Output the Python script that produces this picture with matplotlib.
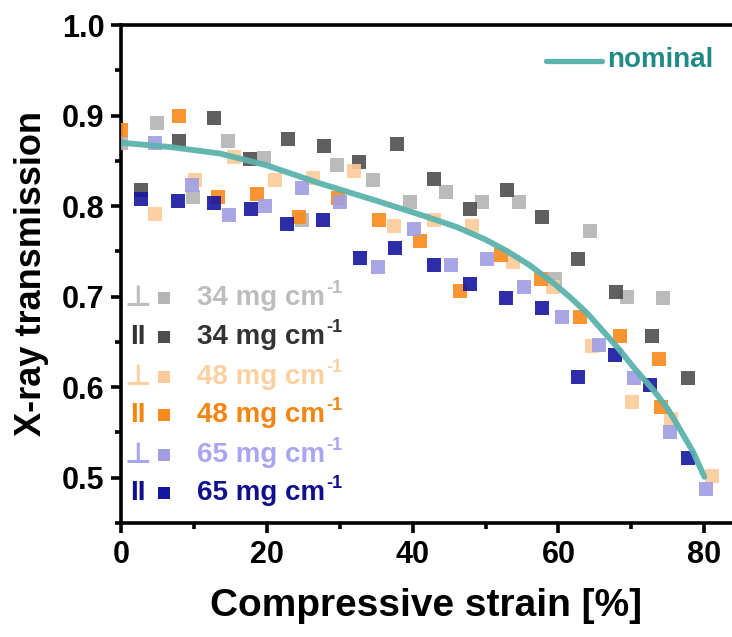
import matplotlib
matplotlib.use('Agg')
import matplotlib.pyplot as plt
from matplotlib.transforms import IdentityTransform

plt.rcParams['font.family'] = ['Liberation Sans', 'DejaVu Sans']
plt.rcParams['font.weight'] = 'bold'

# ---- data ----
perp34_x = [0, 4.9, 9.9, 14.7, 19.6, 24.8, 29.6, 34.5, 39.6, 44.6, 49.5, 54.6, 59.5, 64.3, 69.4, 74.3]
perp34_y = [0.870, 0.892, 0.810, 0.872, 0.853, 0.785, 0.845, 0.829, 0.804, 0.816, 0.805, 0.805, 0.720, 0.772, 0.700, 0.699]

par34_x = [2.8, 7.9, 12.8, 17.7, 22.9, 27.8, 32.7, 37.8, 42.9, 47.9, 52.9, 57.8, 62.7, 67.9, 72.8, 77.7]
par34_y = [0.818, 0.872, 0.897, 0.852, 0.874, 0.866, 0.849, 0.869, 0.830, 0.797, 0.818, 0.788, 0.742, 0.705, 0.656, 0.610]

perp48_x = [4.7, 10.2, 15.5, 21.1, 26.4, 31.9, 37.4, 42.9, 48.2, 53.7, 59.2, 64.6, 70.1, 75.5, 81.0]
perp48_y = [0.791, 0.829, 0.854, 0.829, 0.831, 0.839, 0.778, 0.785, 0.778, 0.738, 0.711, 0.645, 0.584, 0.565, 0.502]

par48_x = [0, 8.0, 13.3, 18.7, 24.4, 29.8, 35.4, 41.0, 46.5, 52.1, 57.6, 63.0, 68.4, 73.8, 74.0]
par48_y = [0.884, 0.899, 0.810, 0.813, 0.788, 0.809, 0.785, 0.761, 0.706, 0.746, 0.719, 0.677, 0.657, 0.631, 0.578]

perp65_x = [4.7, 9.8, 14.8, 19.8, 24.8, 30.0, 35.2, 40.2, 45.2, 50.2, 55.3, 60.5, 65.5, 70.3, 75.3, 80.2]
perp65_y = [0.870, 0.823, 0.790, 0.800, 0.820, 0.804, 0.733, 0.775, 0.735, 0.742, 0.711, 0.678, 0.647, 0.610, 0.551, 0.487]

par65_x = [2.8, 7.8, 12.8, 17.8, 22.7, 27.7, 32.8, 37.6, 42.9, 47.9, 52.8, 57.7, 62.7, 67.8, 72.6, 77.7]
par65_y = [0.808, 0.806, 0.803, 0.797, 0.780, 0.785, 0.743, 0.754, 0.735, 0.714, 0.699, 0.688, 0.611, 0.636, 0.602, 0.522]

nominal_x = [0, 7, 13.6, 20, 27.3, 35, 42, 46, 50, 53, 56, 59.3, 61.5, 63.9, 66, 68.4, 70.5, 73, 75, 76.7, 78.5, 80]
nominal_y = [0.870, 0.865, 0.858, 0.845, 0.825, 0.806, 0.788, 0.777, 0.763, 0.750, 0.735, 0.715, 0.700, 0.682, 0.663, 0.641, 0.620, 0.597, 0.576, 0.553, 0.528, 0.501]

series_labels = ["34 mg cm", "34 mg cm", "48 mg cm", "48 mg cm", "65 mg cm", "65 mg cm"]
label_exponent = "-1"
series_symbols = ["\u22a5", "II", "\u22a5", "II", "\u22a5", "II"]
marker_colors = ["#b4b4b4", "#4d4d4d", "#fdcb9a", "#fb8a1c", "#a09de4", "#16169e"]
text_colors = ["#bdbdbd", "#333333", "#fdd0a2", "#f58410", "#a8a6f0", "#10108f"]

xs = [perp34_x, par34_x, perp48_x, par48_x, perp65_x, par65_x]
ys = [perp34_y, par34_y, perp48_y, par48_y, perp65_y, par65_y]

# ---- figure ----
W, H = 732, 637
fig = plt.figure(figsize=(W / 100, H / 100), dpi=100)
ax = fig.add_axes([121 / W, 1 - 523 / H, 1 - 121 / W, (523 - 25) / H])

for x, y, c in zip(xs, ys, marker_colors):
    ax.plot(x, y, linestyle='none', marker='s', markersize=10, color=c,
            markeredgewidth=0, alpha=0.9, clip_on=True, zorder=3)

ax.plot(nominal_x, nominal_y, color='#5cb2ad', lw=4.2, alpha=0.95,
        solid_capstyle='round', solid_joinstyle='round', zorder=4)

ax.set_xlim(0, 83.8)
ax.set_ylim(0.45, 1.0)
ax.set_xticks([0, 20, 40, 60, 80])
ax.set_xticks([10, 30, 50, 70], minor=True)
ax.set_yticks([0.5, 0.6, 0.7, 0.8, 0.9, 1.0])
ax.set_yticks([0.45, 0.55, 0.65, 0.75, 0.85, 0.95], minor=True)
ax.set_yticklabels(['0.5', '0.6', '0.7', '0.8', '0.9', '1.0'])

for s in ['left', 'bottom', 'top']:
    ax.spines[s].set_linewidth(2.6)
ax.spines['right'].set_visible(False)

ax.tick_params(axis='both', which='major', direction='out', length=7, width=2.6,
               labelsize=22, pad=5)
ax.tick_params(axis='both', which='minor', direction='out', length=4, width=2.6)
ax.tick_params(top=False, right=False)
for lab in ax.get_xticklabels() + ax.get_yticklabels():
    lab.set_fontweight('bold')

ax.set_xlabel('Compressive strain [%]', fontsize=28, fontweight='bold', labelpad=13)
ax.set_ylabel('X-ray transmission', fontsize=26, fontweight='bold', labelpad=9)

# ---- custom legend ----
def px2ax(px, py):
    return (px - 121) / (733 - 121), (523 - py) / (523 - 25)

rows_py = [298, 337, 377, 415, 455, 493]
main_texts = []
for py, sym, lab, mc, tc in zip(rows_py, series_symbols, series_labels, marker_colors, text_colors):
    sx, sy = px2ax(138, py)
    if sym == "II":
        ax.text(sx, sy, sym, transform=ax.transAxes, color=tc, fontsize=20,
                fontweight='bold', ha='center', va='center',
                family=['Liberation Sans', 'DejaVu Sans'])
    else:
        ax.text(sx, sy, sym, transform=ax.transAxes, color=tc, fontsize=21,
                fontweight='bold', ha='center', va='center',
                family=['DejaVu Sans'])
    qx, qy = px2ax(164, py)
    ax.plot([qx], [qy], transform=ax.transAxes, marker='s', markersize=9,
            color=mc, markeredgewidth=0, linestyle='none', clip_on=False)
    tx, ty = px2ax(197, py)
    t = ax.text(tx, ty, lab, transform=ax.transAxes, color=tc, fontsize=20,
                fontweight='bold', ha='left', va='center')
    main_texts.append((t, tc))

# nominal legend
l0 = px2ax(547, 61)
l1 = px2ax(603, 61)
ax.plot([l0[0], l1[0]], [l0[1], l1[1]], transform=ax.transAxes, color='#5cb2ad',
        lw=3.8, solid_capstyle='round', clip_on=False)
nx, ny = px2ax(608, 60)
ax.text(nx, ny, 'nominal', transform=ax.transAxes, color='#1f8a86', fontsize=20,
        fontweight='bold', ha='left', va='center')

# superscripts placed after the rendered main texts
fig.canvas.draw()
renderer = fig.canvas.get_renderer()
for t, tc in main_texts:
    bb = t.get_window_extent(renderer)
    fig.text(bb.x1 + 1, bb.y1 + 5, label_exponent, transform=IdentityTransform(),
             color=tc, fontsize=13, fontweight='bold', ha='left', va='top')

fig.savefig('out.png', dpi=100)
